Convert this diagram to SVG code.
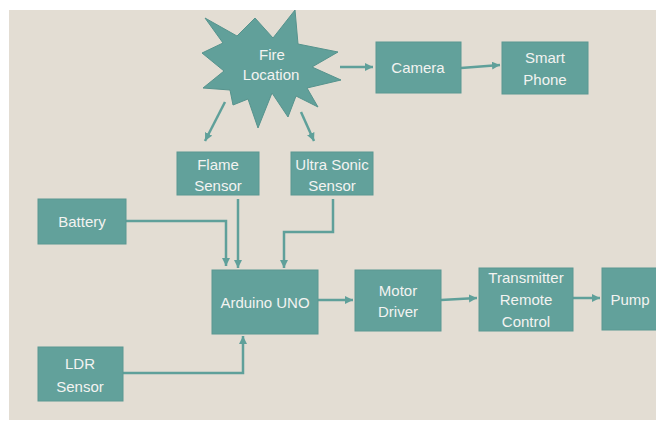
<svg xmlns="http://www.w3.org/2000/svg" width="656" height="421" viewBox="0 0 656 421">
<style>
.bg{fill:#E3DDD3}
.box{fill:#62A19B;stroke:#5B9892;stroke-width:1}
.star{fill:#61A09A;stroke:#56938D;stroke-width:1}
.t{font-family:"Liberation Sans",Arial,sans-serif;font-size:15px;fill:#F3F3F1;text-anchor:middle}
.c{fill:none;stroke:#5FA09A;stroke-width:2.5;marker-end:url(#ah)}
</style>
<defs>
<marker id="ah" markerUnits="userSpaceOnUse" markerWidth="10" markerHeight="10" refX="8" refY="4" orient="auto">
<path d="M0,0 L8,4 L0,8 z" fill="#5FA09A"/>
</marker>
</defs>
<rect x="0" y="0" width="656" height="421" fill="#FFFFFF"/>
<rect class="bg" x="9" y="10" width="647" height="410"/>

<g id="connectors">
<line class="c" x1="340" y1="67" x2="373" y2="67"/>
<line class="c" x1="461" y1="68" x2="500" y2="65"/>
<line class="c" x1="225" y1="102" x2="205" y2="141"/>
<line class="c" x1="301" y1="112" x2="314" y2="141"/>
<polyline class="c" points="126,221 226,221 226,266"/>
<line class="c" x1="238" y1="199" x2="238" y2="268"/>
<polyline class="c" points="333,199 333,232 284,232 284,268"/>
<line class="c" x1="318" y1="300" x2="353" y2="300"/>
<line class="c" x1="441" y1="300" x2="477" y2="298"/>
<line class="c" x1="573" y1="298" x2="600" y2="298"/>
<polyline class="c" points="123,373 243,373 243,336"/>
</g>

<g id="fire-location">
<polygon class="star" points="255,18 273,38 295,10 298,44 338,52 312,67 341,80 307,88 318,107 296,96 288,117 272,93 258,128 248,99 233,105 230,90 203,88 224,71 202,53 223,43 205,18 237,36"/>
<text class="t" x="272" y="60">Fire</text>
<text class="t" x="271" y="80">Location</text>
</g>

<g id="camera">
<rect class="box" x="376" y="42" width="85" height="51"/>
<text class="t" x="418" y="73">Camera</text>
</g>

<g id="smart-phone">
<rect class="box" x="502" y="42" width="86" height="52"/>
<text class="t" x="545" y="63">Smart</text>
<text class="t" x="545" y="85">Phone</text>
</g>

<g id="flame-sensor">
<rect class="box" x="177" y="152" width="82" height="43"/>
<text class="t" x="218" y="170">Flame</text>
<text class="t" x="218" y="191">Sensor</text>
</g>

<g id="ultra-sonic-sensor">
<rect class="box" x="291" y="152" width="82" height="43"/>
<text class="t" x="332" y="170">Ultra Sonic</text>
<text class="t" x="332" y="191">Sensor</text>
</g>

<g id="battery">
<rect class="box" x="38" y="199" width="88" height="45"/>
<text class="t" x="82" y="227">Battery</text>
</g>

<g id="arduino-uno">
<rect class="box" x="212" y="270" width="106" height="64"/>
<text class="t" x="265" y="308">Arduino UNO</text>
</g>

<g id="motor-driver">
<rect class="box" x="355" y="270" width="86" height="61"/>
<text class="t" x="398" y="296">Motor</text>
<text class="t" x="398" y="317">Driver</text>
</g>

<g id="transmitter-remote-control">
<rect class="box" x="479" y="268" width="94" height="63"/>
<text class="t" x="526" y="283">Transmitter</text>
<text class="t" x="526" y="305">Remote</text>
<text class="t" x="526" y="327">Control</text>
</g>

<g id="pump">
<rect class="box" x="602" y="268" width="60" height="62"/>
<text class="t" x="630" y="305">Pump</text>
</g>

<g id="ldr-sensor">
<rect class="box" x="38" y="347" width="85" height="54"/>
<text class="t" x="80" y="369">LDR</text>
<text class="t" x="80" y="392">Sensor</text>
</g>
</svg>
